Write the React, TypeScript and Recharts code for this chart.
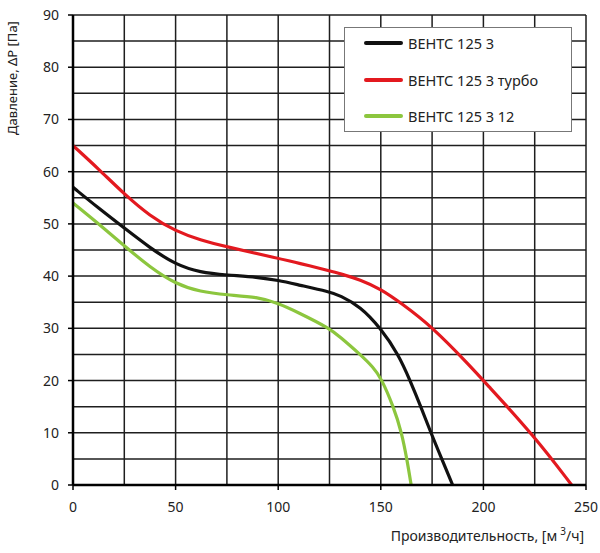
import { CartesianGrid, Line, LineChart, XAxis, YAxis } from "recharts"

// flow, m³/h  ->  pressure, Pa
const baseFlow = [0, 12.5, 25, 37.5, 50, 62, 75, 90, 100, 110, 125, 130, 140, 150, 158.6, 164.3, 169.5, 174.4, 179.7, 185]
const basePressure = [57, 53, 49.2, 45.4, 42.2, 40.7, 40.2, 39.8, 39.2, 38.3, 37, 36.3, 34.2, 30, 25, 20, 15, 10, 5, 0]

const turboFlow = [0, 12.5, 25, 37.5, 50, 62, 75, 100, 110, 125, 130, 140, 150, 160, 175, 193.5, 200, 225, 243]
const turboPressure = [65, 60.5, 55.7, 51.5, 48.6, 46.9, 45.6, 43.4, 42.5, 41, 40.5, 39.3, 37.5, 34.8, 30.3, 22.8, 20, 9.3, 0]

const v12Flow = [0, 12.5, 25, 37.5, 50, 62, 75, 90, 100, 110, 125, 130, 140, 146.4, 150, 156.2, 160.2, 162.7, 164.8]
const v12Pressure = [54, 50, 45.8, 41.7, 38.5, 37, 36.4, 36, 34.8, 33, 30, 28.4, 25, 22.5, 20.6, 15, 10, 5, 0]

const xTicks = [0, 50, 100, 150, 200, 250]
const yTicks = [0, 10, 20, 30, 40, 50, 60, 70, 80, 90]
const xGrid = [0, 25, 50, 75, 100, 125, 150, 175, 200, 225, 250]
const yGrid = [0, 5, 10, 15, 20, 25, 30, 35, 40, 45, 50, 55, 60, 65, 70, 75, 80, 85, 90]

const zip = (xs: number[], ys: number[]) => xs.map((q, i) => ({ q, p: ys[i] }))

const series = [
  { name: "ВЕНТС 125 3", color: "#111111", data: zip(baseFlow, basePressure) },
  { name: "ВЕНТС 125 3 турбо", color: "#e3191f", data: zip(turboFlow, turboPressure) },
  { name: "ВЕНТС 125 3 12", color: "#8cc63e", data: zip(v12Flow, v12Pressure) },
]

const font = "'Noto Sans', 'Open Sans', sans-serif"

export default function App() {
  return (
    <div style={{ position: "absolute", left: 0, top: 0, width: 600, height: 553, background: "#fff", fontFamily: font }}>
      <LineChart width={600} height={553} margin={{ top: 15, right: 14, bottom: 0, left: 0 }}>
        <CartesianGrid
          horizontalValues={yGrid}
          verticalValues={xGrid}
          stroke="#1e1e1e"
          strokeWidth={1.5}
        />
        <XAxis
          type="number"
          dataKey="q"
          domain={[0, 250]}
          ticks={xTicks}
          height={68}
          tickSize={5}
          tickMargin={12}
          axisLine={{ stroke: "#000", strokeWidth: 2.5 }}
          tickLine={{ stroke: "#000", strokeWidth: 1.5 }}
          tick={{ fontSize: 14, fill: "#222", fontFamily: font }}
          label={{
            content: () => (
              <text x={584} y={541} textAnchor="end" fontSize={14} fill="#222" fontFamily={font}>
                Производительность, [м
                <tspan dx={3} dy={-6} fontSize={10}>3</tspan>
                <tspan dy={6}>/ч]</tspan>
              </text>
            ),
          }}
        />
        <YAxis
          type="number"
          domain={[0, 90]}
          ticks={yTicks}
          width={73}
          tickSize={5}
          tickMargin={9}
          axisLine={{ stroke: "#000", strokeWidth: 2.5 }}
          tickLine={{ stroke: "#000", strokeWidth: 1.5 }}
          tick={{ fontSize: 14, fill: "#222", fontFamily: font }}
          label={{
            content: () => (
              <text
                x={0}
                y={0}
                transform="translate(17,78) rotate(-90)"
                textAnchor="middle"
                fontSize={13}
                fill="#222"
                fontFamily={font}
              >
                Давление, ΔP [Па]
              </text>
            ),
          }}
        />
        {series.map((s) => (
          <Line
            key={s.name}
            data={s.data}
            dataKey="p"
            name={s.name}
            type="basis"
            stroke={s.color}
            strokeWidth={3.2}
            dot={false}
            activeDot={false}
            isAnimationActive={false}
          />
        ))}
      </LineChart>
      <div
        style={{
          position: "absolute",
          left: 344,
          top: 27,
          width: 228,
          height: 105,
          boxSizing: "border-box",
          border: "1px solid #777",
          background: "#fff",
        }}
      >
        {series.map((s, i) => (
          <div
            key={s.name}
            style={{ position: "absolute", left: 19, top: 15 + i * 36.5 - 10, height: 20, display: "flex", alignItems: "center" }}
          >
            <div style={{ width: 39, height: 4, borderRadius: 2, background: s.color }} />
            <span style={{ marginLeft: 5, fontSize: 14.5, color: "#222", whiteSpace: "nowrap" }}>{s.name}</span>
          </div>
        ))}
      </div>
    </div>
  )
}
